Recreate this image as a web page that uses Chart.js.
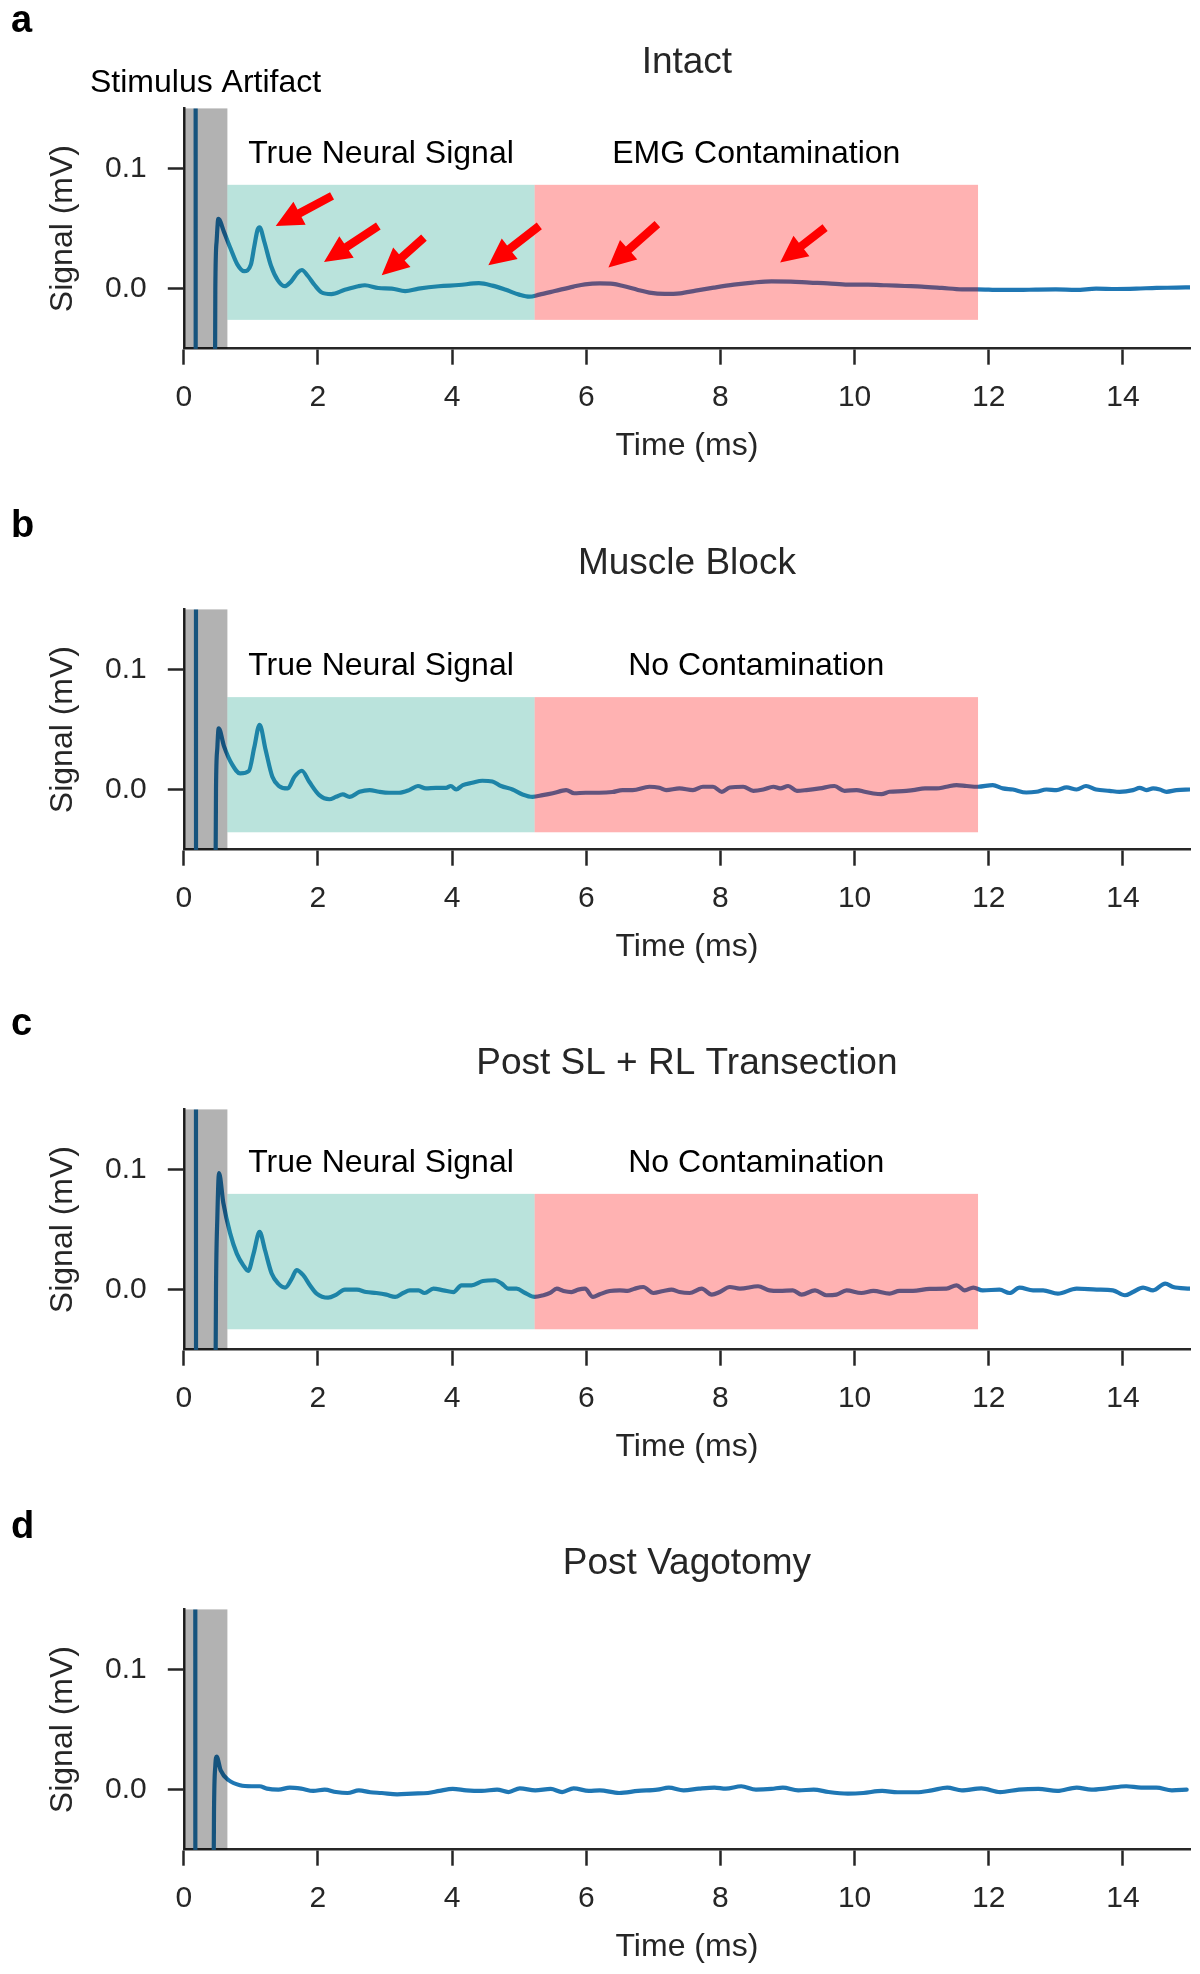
<!DOCTYPE html>
<html>
<head>
<meta charset="utf-8">
<script src="https://cdn.jsdelivr.net/npm/chart.js@4.4.1/dist/chart.umd.min.js"></script>
<style>
  body { margin: 0; background: #fff; }
  #figure { position: relative; width: 1200px; height: 1974px; }
  #figure canvas { position: absolute; left: 0; }
</style>
</head>
<body>
<div id="figure">
  <canvas id="panel-a" width="1200" height="473" style="top:0px"></canvas>
  <canvas id="panel-b" width="1200" height="473" style="top:501px"></canvas>
  <canvas id="panel-c" width="1200" height="473" style="top:1001px"></canvas>
  <canvas id="panel-d" width="1200" height="473" style="top:1501px"></canvas>
</div>
<script>
// ---- data (time in ms, signal in mV) ----

const xTicks = [0, 2, 4, 6, 8, 10, 12, 14];
const yTicks = [0, 0.1];

const panelLetters = ["a", "b", "c", "d"];
const panelTitles = ["Intact", "Muscle Block", "Post SL + RL Transection", "Post Vagotomy"];

// window edges: artifact start, artifact end, neural end, contamination end
const regionEdges = [0, 0.65, 5.23, 11.84];
// vertical extent of the neural / contamination windows for panels a, b, c
const bandLow = [-0.026, -0.0355, -0.033];
const bandHigh = [0.0864, 0.077, 0.0797];

const neuralLabels = ["True Neural Signal", "True Neural Signal", "True Neural Signal"];
const contamLabels = ["EMG Contamination", "No Contamination", "No Contamination"];
const artifactLabel = "Stimulus Artifact";

// red arrows in panel a (tail -> tip)
const arrowTailX = [2.21, 2.90, 3.58, 5.30, 7.06, 9.56];
const arrowTailY = [0.0772, 0.0522, 0.0425, 0.0522, 0.0536, 0.0508];
const arrowTipX = [1.37, 2.09, 2.95, 4.54, 6.33, 8.89];
const arrowTipY = [0.0522, 0.0222, 0.0111, 0.0194, 0.0175, 0.0217];

const timeA = [0.175, 0.18, 0.45, 0.47, 0.49, 0.515, 0.6, 0.7, 0.8, 0.9, 1.0, 1.05, 1.1, 1.13, 1.2, 1.3, 1.4, 1.5,
  1.6, 1.7, 1.76, 1.85, 1.95, 2.05, 2.2, 2.4, 2.6, 2.7, 2.9, 3.1, 3.3, 3.5, 3.8, 4.1, 4.4, 4.6, 4.8, 5.0,
  5.15, 5.3, 5.53, 5.81, 5.98, 6.2, 6.4, 6.55, 6.77, 6.94, 7.17, 7.4, 7.63, 7.9, 8.2, 8.48, 8.76, 9.05,
  9.33, 9.6, 9.9, 10.2, 10.47, 10.75, 11.0, 11.3, 11.6, 11.83, 12.17, 12.45, 12.7, 13.0, 13.3, 13.6,
  13.9, 14.2, 14.5, 14.8, 15.0];
const signalA = [0.6, -0.6, -0.3, 0.0, 0.04, 0.058, 0.047, 0.033, 0.020, 0.0145, 0.02, 0.035, 0.049, 0.051, 0.039,
  0.019, 0.007, 0.002, 0.006, 0.0135, 0.0155, 0.0105, 0.003, -0.003, -0.0045, -0.001, 0.002, 0.0028, 0.0005,
  0.0, -0.002, 0.0, 0.002, 0.003, 0.0045, 0.0025, -0.001, -0.005, -0.0067, -0.005, -0.002, 0.0017, 0.0036,
  0.0044, 0.004, 0.0022, -0.0011, -0.0033, -0.0044, -0.0039, -0.0017, 0.0008, 0.0033, 0.005, 0.0061, 0.0058,
  0.005, 0.0044, 0.0033, 0.0033, 0.0028, 0.0022, 0.0017, 0.0006, -0.0006, -0.0006, -0.0011, -0.0011, -0.0008,
  -0.0006, -0.0011, 0.0, -0.0003, 0.0, 0.0006, 0.0008, 0.0011];

const timeB = [0.18, 0.185, 0.45, 0.48, 0.5, 0.52, 0.6, 0.72, 0.84, 0.97, 1.05, 1.13, 1.22, 1.32, 1.42, 1.55, 1.65,
  1.76, 1.87, 2.02, 2.17, 2.27, 2.37, 2.47, 2.62, 2.77, 2.91, 3.06, 3.21, 3.36, 3.49, 3.61, 3.76, 3.91, 3.98,
  4.06, 4.16, 4.3, 4.45, 4.6, 4.73, 4.9, 5.05, 5.2, 5.35, 5.5, 5.7, 5.82, 5.99, 6.19, 6.39, 6.54, 6.69, 6.94,
  7.09, 7.19, 7.39, 7.59, 7.74, 7.89, 8.02, 8.14, 8.34, 8.49, 8.64, 8.79, 8.89, 9.01, 9.14, 9.28, 9.48, 9.7,
  9.85, 10.03, 10.15, 10.28, 10.4, 10.52, 10.72, 10.87, 11.05, 11.22, 11.37, 11.52, 11.67, 11.84, 12.06,
  12.21, 12.36, 12.56, 12.71, 12.86, 13.01, 13.16, 13.31, 13.45, 13.6, 13.8, 13.95, 14.15, 14.25, 14.35,
  14.45, 14.55, 14.65, 14.8, 15.0];
const signalB = [0.6, -0.6, -0.3, 0.0, 0.035, 0.051, 0.036, 0.021, 0.0135, 0.0155, 0.035, 0.054, 0.033, 0.0107,
  0.003, 0.001, 0.0107, 0.0157, 0.0065, -0.0046, -0.008, -0.006, -0.004, -0.006, -0.0018, -0.0004, -0.0018,
  -0.0026, -0.0026, -0.0004, 0.003, 0.001, 0.0015, 0.0015, 0.003, 0.0001, 0.0038, 0.0057, 0.0074, 0.0068,
  0.003, 0.0001, -0.004, -0.006, -0.0046, -0.003, -0.0004, -0.003, -0.0026, -0.0026, -0.002, -0.0004,
  -0.0004, 0.0024, 0.0015, -0.0004, 0.001, -0.0004, 0.0024, 0.0024, -0.0018, 0.0018, 0.0024, -0.001, 0.0001,
  0.0024, 0.001, 0.003, -0.001, -0.0004, 0.001, 0.003, -0.001, -0.0004, -0.0018, -0.0032, -0.0038, -0.0018,
  -0.0013, -0.0004, 0.001, 0.001, 0.0024, 0.0038, 0.003, 0.0024, 0.0038, 0.001, 0.0001, -0.0024, -0.0018,
  0.0001, -0.0004, 0.0018, 0.0001, 0.003, 0.0001, -0.001, -0.0018, -0.0004, 0.0015, -0.0004, 0.001, 0.0001,
  -0.0018, -0.0004, 0.0001];

const timeC = [0.18, 0.185, 0.45, 0.48, 0.5, 0.525, 0.59, 0.69, 0.79, 0.89, 0.96, 1.04, 1.13, 1.21, 1.31, 1.41,
  1.51, 1.61, 1.68, 1.78, 1.88, 1.98, 2.15, 2.28, 2.4, 2.58, 2.72, 2.87, 3.02, 3.15, 3.27, 3.37, 3.5, 3.59,
  3.72, 3.87, 4.02, 4.14, 4.29, 4.46, 4.64, 4.74, 4.84, 4.96, 5.09, 5.23, 5.36, 5.46, 5.56, 5.66, 5.78, 5.88,
  5.98, 6.1, 6.2, 6.35, 6.5, 6.62, 6.72, 6.85, 7.0, 7.15, 7.27, 7.39, 7.54, 7.72, 7.87, 7.99, 8.14, 8.29,
  8.56, 8.73, 8.88, 9.08, 9.21, 9.41, 9.58, 9.73, 9.88, 10.1, 10.28, 10.52, 10.67, 10.87, 11.12, 11.37,
  11.52, 11.64, 11.77, 11.91, 12.16, 12.31, 12.46, 12.66, 12.81, 13.03, 13.31, 13.61, 13.85, 14.03, 14.15,
  14.3, 14.45, 14.63, 14.75, 15.0];
const signalC = [0.6, -0.6, -0.3, 0.0, 0.06, 0.097, 0.072, 0.047, 0.030, 0.020, 0.0156, 0.030, 0.048, 0.033,
  0.0134, 0.005, 0.0017, 0.0092, 0.0162, 0.012, 0.0036, -0.0033, -0.0067, -0.0039, 0.0, 0.0, -0.002, -0.0028,
  -0.0042, -0.0061, -0.0028, -0.0006, -0.0006, -0.0028, 0.0008, -0.0006, -0.002, 0.0036, 0.0036, 0.0072,
  0.0078, 0.005, 0.0008, 0.0008, -0.0028, -0.0061, -0.0047, -0.0028, 0.0008, -0.0011, -0.002, 0.0, 0.0008,
  -0.0061, -0.0039, -0.0011, -0.0006, -0.0011, 0.0008, 0.0022, -0.0028, -0.0011, 0.0, -0.002, -0.0028,
  0.0008, -0.0042, -0.002, 0.0022, 0.0008, 0.0028, -0.0006, -0.0011, -0.0006, -0.0042, -0.0006, -0.0047,
  -0.0042, -0.0006, -0.0028, -0.0011, -0.0033, -0.0011, -0.0011, 0.0006, 0.0008, 0.0036, -0.0006, 0.0017,
  -0.0006, 0.0, -0.0028, 0.0017, -0.0006, -0.0006, -0.0033, 0.0008, 0.0, -0.0006, -0.0047, -0.002, 0.0017,
  -0.0006, 0.005, 0.0022, 0.0008];

const timeD = [0.17, 0.175, 0.42, 0.45, 0.47, 0.49, 0.55, 0.67, 0.84, 1.01, 1.13, 1.24, 1.41, 1.58, 1.75, 1.93,
  2.1, 2.27, 2.44, 2.61, 2.78, 2.95, 3.18, 3.41, 3.64, 3.81, 4.01, 4.21, 4.44, 4.67, 4.84, 5.01, 5.24, 5.47,
  5.64, 5.81, 6.04, 6.2, 6.49, 6.77, 7.06, 7.23, 7.45, 7.68, 7.91, 8.08, 8.31, 8.53, 8.76, 8.93, 9.16, 9.39,
  9.61, 9.9, 10.13, 10.41, 10.64, 10.92, 11.15, 11.38, 11.6, 11.89, 12.17, 12.45, 12.74, 13.02, 13.31,
  13.53, 13.76, 14.05, 14.27, 14.5, 14.73, 14.95];
const signalD = [0.6, -0.6, -0.3, -0.02, 0.02, 0.0274, 0.016, 0.0078, 0.0036, 0.0028, 0.0028, 0.0008, 0.0,
  0.0017, 0.0008, -0.0011, 0.0, -0.002, -0.0028, -0.0006, -0.0022, -0.0028, -0.0039, -0.0033, -0.0028,
  -0.0011, 0.0006, -0.0006, -0.0011, 0.0, -0.002, 0.0011, -0.0006, 0.0006, -0.002, 0.0011, -0.0011, -0.0006,
  -0.0028, -0.0011, 0.0, 0.0017, -0.0006, 0.0008, 0.0017, 0.0008, 0.0028, 0.0, 0.0006, 0.0017, -0.0006, 0.0,
  -0.002, -0.0033, -0.0028, -0.0011, -0.0022, -0.0022, -0.0006, 0.0017, -0.0006, 0.0011, -0.002, 0.0,
  0.0006, -0.0011, 0.0017, 0.0, 0.0011, 0.0028, 0.0017, 0.0017, -0.0006, 0.0];

// ---- drawing ----

const FONT = "'Liberation Sans', Arial, Helvetica, sans-serif";
const INK = '#262626';

const panels = [
  { canvas: 'panel-a', idx: 0, time: timeA, signal: signalA, band: 0, arrows: true, artifact: true, letterY: 32 },
  { canvas: 'panel-b', idx: 1, time: timeB, signal: signalB, band: 1, arrows: false, artifact: false, letterY: 36 },
  { canvas: 'panel-c', idx: 2, time: timeC, signal: signalC, band: 2, arrows: false, artifact: false, letterY: 34 },
  { canvas: 'panel-d', idx: 3, time: timeD, signal: signalD, band: null, arrows: false, artifact: false, letterY: 37 }
];

function drawArrow(ctx, x1, y1, x2, y2) {
  const dx = x2 - x1, dy = y2 - y1;
  const len = Math.hypot(dx, dy);
  const ux = dx / len, uy = dy / len;
  const nx = -uy, ny = ux;
  const headLen = 27, headHalf = 13, shaftHalf = 4.2;
  const bx = x2 - ux * headLen, by = y2 - uy * headLen;
  ctx.beginPath();
  ctx.moveTo(x1 + nx * shaftHalf, y1 + ny * shaftHalf);
  ctx.lineTo(bx + nx * shaftHalf, by + ny * shaftHalf);
  ctx.lineTo(bx + nx * headHalf, by + ny * headHalf);
  ctx.lineTo(x2, y2);
  ctx.lineTo(bx - nx * headHalf, by - ny * headHalf);
  ctx.lineTo(bx - nx * shaftHalf, by - ny * shaftHalf);
  ctx.lineTo(x1 - nx * shaftHalf, y1 - ny * shaftHalf);
  ctx.closePath();
  ctx.fill();
}

// shaded windows go on top of the trace (alpha spans), then labels + arrows
function decoPlugin(p) {
  return {
    id: 'deco',
    afterDatasetsDraw(chart) {
      const ctx = chart.ctx;
      const area = chart.chartArea;
      const x = chart.scales.x, y = chart.scales.y;
      const g0 = x.getPixelForValue(regionEdges[0]);
      const g1 = x.getPixelForValue(regionEdges[1]);
      const n1 = x.getPixelForValue(regionEdges[2]);
      const e1 = x.getPixelForValue(regionEdges[3]);

      ctx.save();
      ctx.fillStyle = 'rgba(0, 0, 0, 0.3)';
      ctx.fillRect(g0, area.top, g1 - g0, area.bottom - area.top);

      ctx.font = `32px ${FONT}`;
      ctx.textAlign = 'center';
      ctx.textBaseline = 'alphabetic';

      if (p.band !== null) {
        const top = y.getPixelForValue(bandHigh[p.band]);
        const bot = y.getPixelForValue(bandLow[p.band]);
        ctx.fillStyle = 'rgba(28, 162, 138, 0.3)';
        ctx.fillRect(g1, top, n1 - g1, bot - top);
        ctx.fillStyle = 'rgba(255, 0, 0, 0.3)';
        ctx.fillRect(n1, top, e1 - n1, bot - top);

        ctx.fillStyle = '#000';
        ctx.fillText(neuralLabels[p.band], (g1 + n1) / 2, top - 22);
        ctx.fillText(contamLabels[p.band], (n1 + e1) / 2, top - 22);
      }

      if (p.artifact) {
        ctx.fillStyle = '#000';
        ctx.fillText(artifactLabel, (g0 + g1) / 2, area.top - 16);
      }

      if (p.arrows) {
        ctx.fillStyle = '#ff0000';
        for (let i = 0; i < arrowTailX.length; i++) {
          drawArrow(ctx,
            x.getPixelForValue(arrowTailX[i]), y.getPixelForValue(arrowTailY[i]),
            x.getPixelForValue(arrowTipX[i]), y.getPixelForValue(arrowTipY[i]));
        }
      }
      ctx.restore();
    },
    afterDraw(chart) {
      const ctx = chart.ctx;
      ctx.save();
      ctx.fillStyle = '#000';
      ctx.font = `bold 38px ${FONT}`;
      ctx.textAlign = 'left';
      ctx.textBaseline = 'alphabetic';
      ctx.fillText(panelLetters[p.idx], 11, p.letterY);
      ctx.restore();
    }
  };
}

function makePanel(p) {
  const points = p.time.map((t, i) => ({ x: t, y: p.signal[i] }));
  return new Chart(document.getElementById(p.canvas), {
    type: 'line',
    data: {
      datasets: [{
        data: points,
        borderColor: '#1f77b4',
        borderWidth: 4.2,
        borderJoinStyle: 'round',
        borderCapStyle: 'round',
        pointRadius: 0,
        fill: false,
        cubicInterpolationMode: 'monotone',
        clip: 0
      }]
    },
    options: {
      responsive: false,
      animation: false,
      events: [],
      layout: { padding: { left: 0, right: 10, top: 0, bottom: 0 } },
      plugins: {
        legend: { display: false },
        tooltip: { enabled: false },
        title: {
          display: true,
          text: panelTitles[p.idx],
          fullSize: false,
          color: INK,
          font: { family: FONT, size: 37, weight: 'normal' },
          padding: { top: 41, bottom: 23 }
        }
      },
      scales: {
        x: {
          type: 'linear',
          min: 0,
          max: 15,
          afterBuildTicks: s => { s.ticks = xTicks.map(v => ({ value: v })); },
          afterFit: s => { s.height = 124.3; },
          ticks: {
            color: INK,
            font: { family: FONT, size: 30 },
            padding: 15,
            autoSkip: false,
            maxRotation: 0,
            callback: v => String(v)
          },
          grid: { drawOnChartArea: false, drawTicks: true, tickLength: 16, tickWidth: 2.5, tickColor: INK },
          border: { display: true, color: INK, width: 2.5 },
          title: {
            display: true,
            text: 'Time (ms)',
            color: INK,
            font: { family: FONT, size: 32 },
            padding: { top: 0, bottom: 8 }
          }
        },
        y: {
          type: 'linear',
          min: -0.05,
          max: 0.15,
          afterBuildTicks: s => { s.ticks = yTicks.map(v => ({ value: v })); },
          afterFit: s => { s.width = 183.8; },
          ticks: {
            color: INK,
            font: { family: FONT, size: 30 },
            padding: 21,
            autoSkip: false,
            callback: v => v.toFixed(1)
          },
          grid: { drawOnChartArea: false, drawTicks: true, tickLength: 16, tickWidth: 2.5, tickColor: INK },
          border: { display: true, color: INK, width: 2.5 },
          title: {
            display: true,
            text: 'Signal (mV)',
            color: INK,
            font: { family: FONT, size: 32 },
            padding: { top: 44, bottom: 0 }
          }
        }
      }
    },
    plugins: [decoPlugin(p)]
  });
}

panels.forEach(makePanel);
</script>
</body>
</html>
